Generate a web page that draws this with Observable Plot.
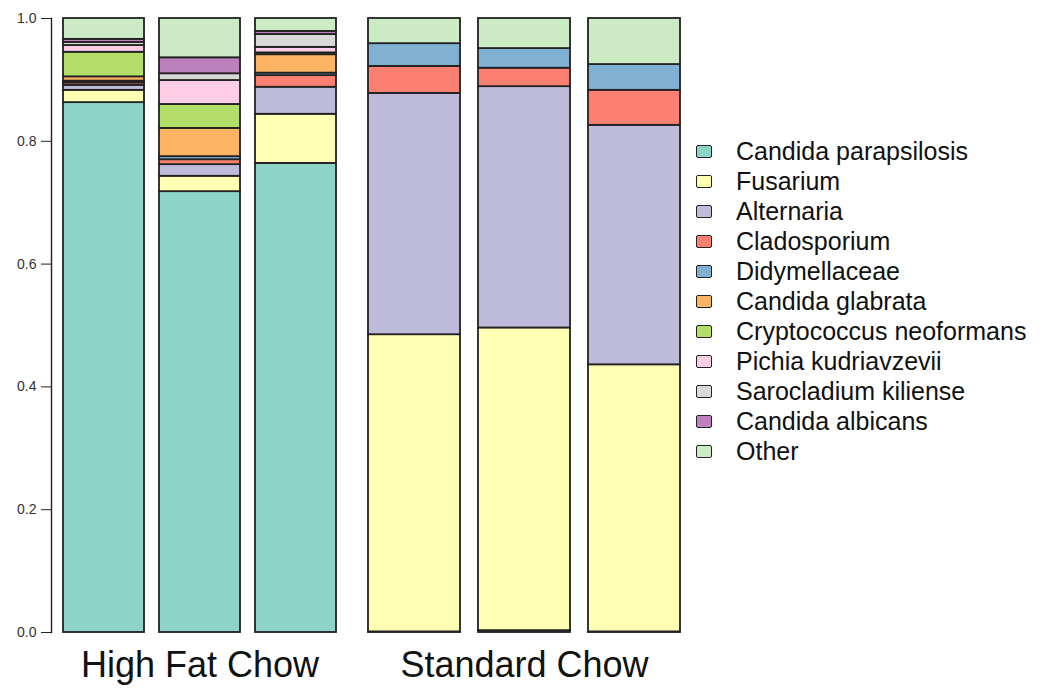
<!DOCTYPE html>
<html>
<head>
<meta charset="utf-8">
<script src="https://cdn.jsdelivr.net/npm/d3@7"></script>
<script src="https://cdn.jsdelivr.net/npm/@observablehq/plot@0.6"></script>
<style>
  html, body { margin: 0; padding: 0; background: #fff; }
  #wrap { position: relative; width: 1044px; height: 690px; font-family: "Liberation Sans", Arial, Helvetica, sans-serif; }
  #p1, #p2 { position: absolute; top: 0; }
  #p1 { left: 0; }
  #p2 { left: 340px; }
  #legend { position: absolute; left: 696px; top: 136px; }
  .item { display: flex; align-items: center; height: 30.1px; }
  .sw { width: 14px; height: 11px; border: 1.6px solid #222; border-radius: 2px; margin-right: 24px; }
  .lab { font-size: 25px; color: #111; white-space: nowrap; }
</style>
</head>
<body>
<div id="wrap">
  <div id="p1"></div>
  <div id="p2"></div>
  <div id="legend"></div>
</div>
<script>
// ---- data ----
const groups = ["High Fat Chow", "Standard Chow"];
const hfSamples = ["HF1", "HF2", "HF3"];
const scSamples = ["SC1", "SC2", "SC3"];
const taxa = [
  "Candida parapsilosis", "Fusarium", "Alternaria", "Cladosporium", "Didymellaceae",
  "Candida glabrata", "Cryptococcus neoformans", "Pichia kudriavzevii",
  "Sarocladium kiliense", "Candida albicans", "Other"
];
const colors = [
  "#8DD3C7", "#FFFFB3", "#BEBADA", "#FB8072", "#80B1D3",
  "#FDB462", "#B3DE69", "#FCCDE5", "#D9D9D9", "#BC80BD", "#CCEBC5"
];
// relative abundances per sample, in taxa order
const HF1 = [0.863, 0.020, 0.008, 0.004, 0.003, 0.007, 0.040, 0.011, 0.005, 0.005, 0.034];
const HF2 = [0.718, 0.025, 0.019, 0.008, 0.005, 0.046, 0.039, 0.039, 0.011, 0.026, 0.064];
const HF3 = [0.764, 0.080, 0.044, 0.019, 0.004, 0.030, 0.003, 0.009, 0.021, 0.005, 0.021];
const SC1 = [0.001, 0.484, 0.393, 0.044, 0.037, 0, 0, 0, 0, 0, 0.041];
const SC2 = [0.003, 0.493, 0.393, 0.030, 0.032, 0, 0, 0, 0, 0, 0.049];
const SC3 = [0.001, 0.435, 0.390, 0.057, 0.042, 0, 0, 0, 0, 0, 0.075];
const yTicks = [0, 0.2, 0.4, 0.6, 0.8, 1.0];

const sampleValues = {HF1, HF2, HF3, SC1, SC2, SC3};

function rowsFor(samples) {
  const rows = [];
  for (const s of samples) {
    sampleValues[s].forEach((v, i) => {
      if (v > 0) rows.push({sample: s, taxon: taxa[i], value: v});
    });
  }
  return rows;
}

const H = 690, MT = 18, MB = 58;
const colorScale = {domain: taxa, range: colors};

function barPlot(samples, group, opts) {
  const marks = [
    Plot.rectY(rowsFor(samples), Plot.stackY({
      x: "sample", y: "value", fill: "taxon",
      stroke: "#222", strokeWidth: 1.8
    })),
    Plot.text([group], {
      x: () => samples[1], text: d => d,
      frameAnchor: "bottom", dy: 33, fontSize: 36, lineAnchor: "middle",
      fill: "#111"
    })
  ];
  if (opts.axis) {
    marks.push(Plot.axisY({
      ticks: yTicks, tickFormat: d3.format(".1f"), tickSize: 10, tickPadding: 5,
      fontSize: 14, stroke: "#222", fill: "#333", label: null
    }));
    marks.push(Plot.frame({anchor: "left", stroke: "#222", strokeWidth: 1.4}));
  }
  return Plot.plot({
    width: opts.width, height: H,
    marginTop: MT, marginBottom: MB, marginLeft: opts.ml, marginRight: opts.mr,
    style: {fontFamily: "'Liberation Sans', Arial, Helvetica, sans-serif", background: "transparent"},
    x: {domain: samples, paddingInner: 0.16, paddingOuter: 0, insetLeft: opts.inset || 0, axis: null},
    y: {domain: [0, 1], axis: null},
    color: colorScale,
    marks
  });
}

document.getElementById("p1").appendChild(
  barPlot(hfSamples, groups[0], {width: 340, ml: 51, mr: 4, inset: 11, axis: true})
);
document.getElementById("p2").appendChild(
  barPlot(scSamples, groups[1], {width: 346, ml: 27, mr: 4, axis: false})
);

// legend
const legend = document.getElementById("legend");
taxa.forEach((t, i) => {
  const item = document.createElement("div");
  item.className = "item";
  const sw = document.createElement("div");
  sw.className = "sw";
  sw.style.background = colors[i];
  const lab = document.createElement("div");
  lab.className = "lab";
  lab.textContent = t;
  item.appendChild(sw);
  item.appendChild(lab);
  legend.appendChild(item);
});
</script>
</body>
</html>
